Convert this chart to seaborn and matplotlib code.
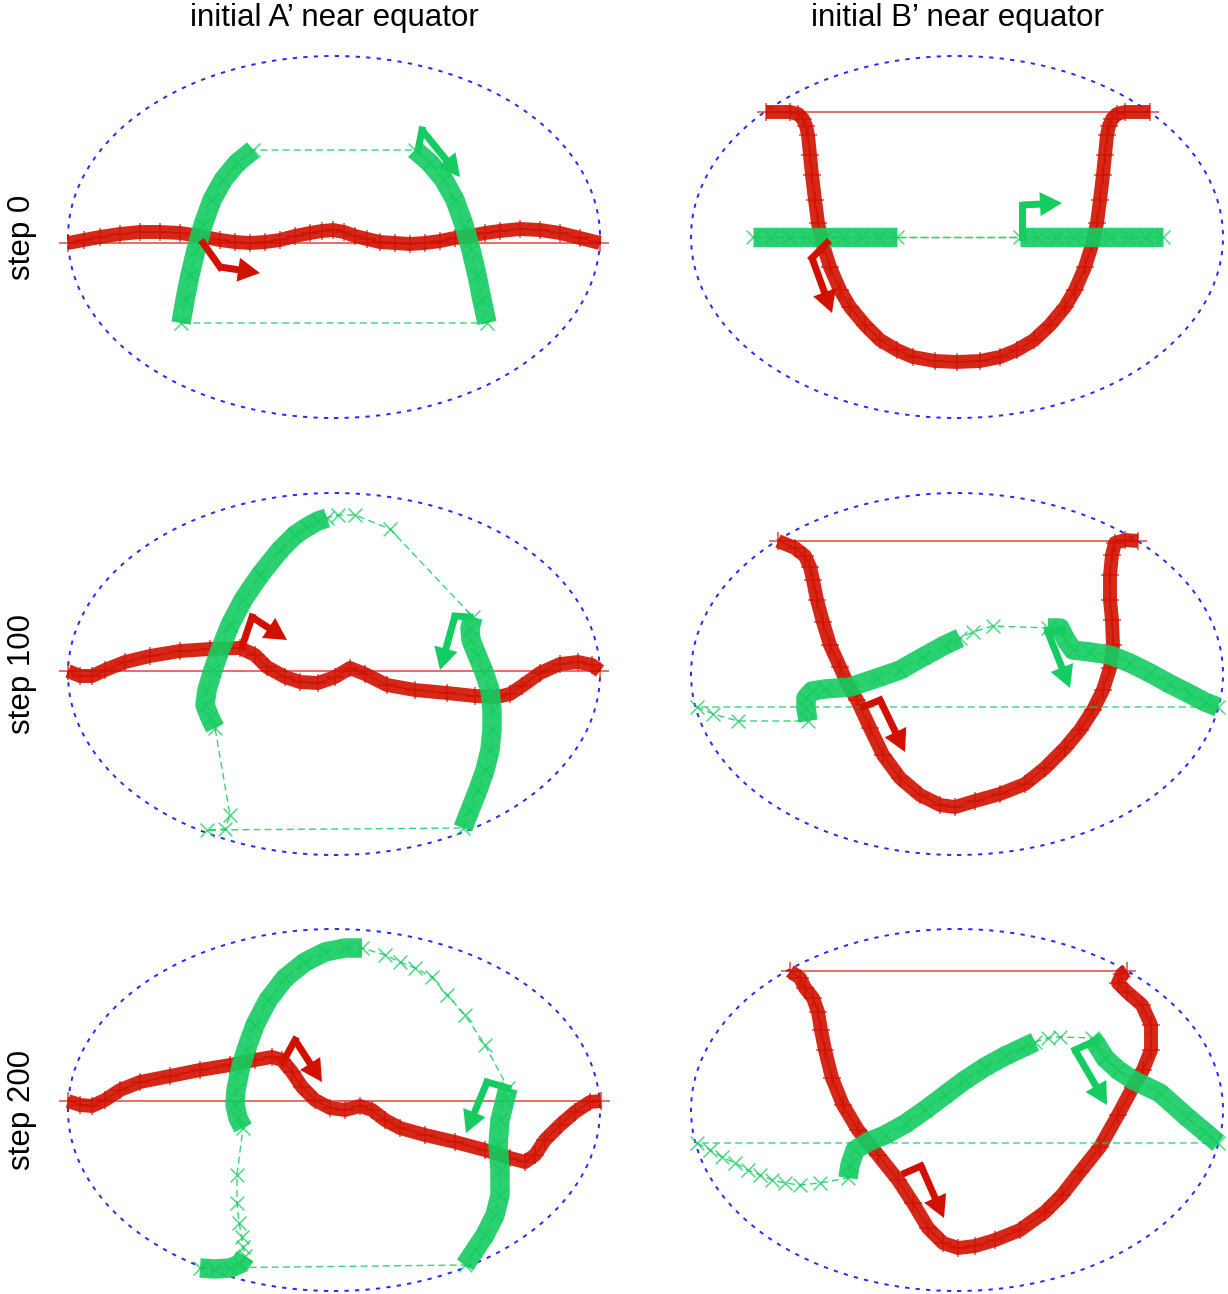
import matplotlib
matplotlib.use("Agg")
import matplotlib.pyplot as plt
import numpy as np
import pandas as pd
import seaborn as sns
from matplotlib.patches import Ellipse, FancyArrow

sns.set_theme(style="white")
plt.rcParams['font.family'] = ['Liberation Sans', 'DejaVu Sans']

# ---------------- text ----------------
col_titles = ["initial A\u2019 near equator", "initial B\u2019 near equator"]
row_titles = ["step 0", "step 100", "step 200"]

# ---------------- data (projected map coords, ellipse semi-axes 266 x 181) ----------------
# column A, step 0
a0_red_x = [-266, -250, -234, -214, -194, -174, -154, -134, -114, -99, -84, -69, -54, -39, -24, -12, -1, 10, 21,
            33, 46, 61, 76, 91, 106, 121, 136, 151, 166, 186, 206, 226, 246, 266]
a0_red_y = [-6, -3, 0, 3, 5, 5, 4, 1, -3, -5, -6, -5, -3, 1, 4, 6, 7, 5, 1,
            -2, -5, -6, -7, -6, -4, -1, 1, 4, 6, 8, 7, 4, -1, -6]
a0_g1_x = [-153, -149, -144, -138, -131, -122, -111, -97, -81]
a0_g1_y = [-86, -63, -38, -13, 12, 37, 57, 74, 87]
a0_g2_x = [81, 96, 110, 121, 130, 137, 143, 148, 153]
a0_g2_y = [87, 74, 57, 37, 12, -13, -38, -63, -86]
a0_ra_x = [-131, -114, -74]
a0_ra_y = [-6, -30, -36]
a0_ga_x = [84, 88, 126]
a0_ga_y = [87, 107, 60]

# column B, step 0
b0_red_x = [-191, -167, -159, -154, -151, -149, -147, -145, -142, -139, -134, -127, -117, -107, -92, -77, -60,
            -44, -22, 0, 23, 43, 60, 77, 93, 108, 118, 128, 135, 140, 143, 146, 148, 150, 152, 155, 160, 168, 193]
b0_red_y = [125, 125, 123, 118, 111, 102, 82, 62, 37, 14, -8, -30, -53, -70, -88, -103, -113,
            -120, -124, -125, -124, -120, -113, -103, -88, -70, -53, -30, -8, 14, 37, 62, 82, 102, 111, 118, 123, 125, 125]
b0_g1_x = [-204, -186, -168, -150, -132, -114, -96, -78, -60]
b0_g1_y = [0, 0, 0, 0, 0, 0, 0, 0, 0]
b0_g2_x = [63, 81, 99, 117, 135, 153, 171, 189, 206]
b0_g2_y = [0, 0, 0, 0, 0, 0, 0, 0, 0]
b0_ra_x = [-130, -145, -125]
b0_ra_y = [-6, -21, -76]
b0_ga_x = [65, 65, 105]
b0_ga_y = [0, 32, 34]

# column A, step 100
a1_red_x = [-266, -254, -242, -229, -209, -184, -154, -124, -94, -79, -67, -49, -34, -16, 1, 16, 31, 53, 81,
            113, 141, 163, 176, 188, 206, 226, 244, 258, 266]
a1_red_y = [3, -2, -2, 4, 12, 18, 23, 25, 26, 19, 7, -3, -8, -9, -3, 6, 0, -11, -16,
            -19, -22, -23, -20, -12, 1, 10, 12, 9, 3]
a1_g1_x = [-119, -124, -129, -127, -121, -114, -104, -91, -74, -54, -39, -27, -16, -7]
a1_g1_y = [-54, -44, -31, -16, 4, 24, 49, 74, 99, 124, 139, 147, 153, 156]
a1_s1_x = [4, 21, 56]
a1_s1_y = [159, 159, 145]
a1_g2_x = [139, 136, 137, 143, 150, 156, 158, 158, 156, 151, 144, 136, 129]
a1_g2_y = [57, 46, 34, 19, 2, -16, -36, -56, -76, -96, -116, -136, -154]
a1_s2_x = [-127, -109, -104]
a1_s2_y = [-156, -155, -141]
a1_ra_x = [-92, -82, -47]
a1_ra_y = [27, 57, 34]
a1_ga_x = [136, 121, 106]
a1_ga_y = [57, 58, 4]

# column B, step 100
b1_red_x = [-179, -162, -152, -147, -144, -140, -134, -127, -117, -109, -100, -87, -74, -57, -37, -17, -2, 18,
            43, 68, 88, 108, 123, 136, 146, 153, 156, 155, 153, 153, 155, 158, 168, 181]
b1_red_y = [133, 126, 118, 107, 94, 74, 52, 29, 7, -11, -26, -54, -81, -104, -121, -131, -133, -127,
            -120, -110, -94, -74, -56, -36, -16, 6, 29, 54, 74, 99, 119, 131, 134, 133]
b1_s1_x = [-260, -244, -219]
b1_s1_y = [-33, -40, -47]
b1_g1_x = [-149, -151, -151, -145, -132, -107, -80, -57, -34, -12, 3]
b1_g1_y = [-47, -34, -24, -17, -15, -13, -4, 4, 17, 29, 36]
b1_s2_x = [16, 36]
b1_s2_y = [42, 48]
b1_g2_x = [91, 103, 109, 116, 133, 153, 173, 193, 213, 233, 248, 261]
b1_g2_y = [46, 46, 34, 24, 22, 19, 11, 1, -10, -20, -28, -33]
b1_ra_x = [-94, -77, -52]
b1_ra_y = [-33, -26, -78]
b1_ga_x = [105, 90, 113]
b1_ga_y = [44, 44, -14]

# column A, step 200
a2_red_x = [-266, -254, -242, -229, -214, -194, -164, -134, -104, -79, -62, -52, -42, -32, -19, -4, 11, 26, 38,
            51, 66, 91, 121, 151, 176, 191, 201, 211, 226, 241, 256, 267]
a2_red_y = [9, 5, 4, 10, 20, 28, 34, 40, 45, 50, 53, 50, 38, 23, 10, 2, 0, 4, 0,
            -10, -18, -25, -32, -40, -48, -52, -45, -30, -15, -2, 8, 9]
a2_g1_x = [-91, -96, -99, -98, -94, -88, -79, -66, -49, -29, -9, 11, 28]
a2_g1_y = [-18, -8, 5, 20, 40, 60, 85, 110, 132, 148, 158, 162, 162]
a2_s1_x = [51, 66, 81, 98, 113, 131, 151]
a2_s1_y = [155, 148, 142, 133, 115, 95, 65]
a2_g2_x = [174, 171, 166, 164, 166, 166, 161, 151, 141, 131]
a2_g2_y = [22, 10, -10, -35, -60, -85, -105, -125, -140, -155]
a2_g3_x = [-134, -119, -104, -94, -89]
a2_g3_y = [-158, -159, -158, -154, -146]
a2_s2_x = [-91, -92, -95, -97, -97]
a2_s2_y = [-137, -127, -113, -93, -65]
a2_ra_x = [-51, -39, -12]
a2_ra_y = [48, 70, 28]
a2_ga_x = [174, 153, 132]
a2_ga_y = [22, 28, -23]

# column B, step 200
b2_red_x = [-167, -157, -152, -144, -139, -136, -132, -125, -114, -99, -79, -59, -44, -29, -14, 1, 18, 38,
            63, 88, 105, 123, 143, 161, 176, 186, 194, 194, 185, 170, 161, 165, 170]
b2_red_y = [139, 132, 122, 112, 98, 80, 60, 32, 5, -20, -45, -70, -93, -118, -133, -138, -136, -130,
            -120, -102, -85, -62, -37, -5, 23, 40, 60, 85, 105, 118, 127, 136, 139]
b2_s1_x = [-260, -247, -235, -222, -209, -197, -185, -172, -157, -137]
b2_s1_y = [-33, -40, -47, -53, -60, -65, -70, -73, -75, -73]
b2_g1_x = [-109, -107, -102, -89, -72, -52, -32, -12, 8, 28, 48, 65, 78]
b2_g1_y = [-68, -55, -40, -32, -25, -14, 0, 15, 30, 43, 54, 62, 68]
b2_s2_x = [91, 103]
b2_s2_y = [72, 73]
b2_g2_x = [135, 140, 148, 161, 176, 203, 230, 248, 261]
b2_g2_y = [72, 65, 52, 40, 30, 17, -7, -22, -33]
b2_ra_x = [-52, -36, -13]
b2_ra_y = [-63, -56, -108]
b2_ga_x = [140, 118, 150]
b2_ga_y = [70, 60, 5]

PANELS = {
    (0, 0): dict(red=[("d", a0_red_x, a0_red_y)],
                 green=[("d", a0_g1_x, a0_g1_y), ("d", a0_g2_x, a0_g2_y)],
                 ra=(a0_ra_x, a0_ra_y), ga=(a0_ga_x, a0_ga_y)),
    (0, 1): dict(red=[("d", b0_red_x, b0_red_y)],
                 green=[("d", b0_g1_x, b0_g1_y), ("d", b0_g2_x, b0_g2_y)],
                 ra=(b0_ra_x, b0_ra_y), ga=(b0_ga_x, b0_ga_y)),
    (1, 0): dict(red=[("d", a1_red_x, a1_red_y)],
                 green=[("d", a1_g1_x, a1_g1_y), ("s", a1_s1_x, a1_s1_y),
                        ("d", a1_g2_x, a1_g2_y), ("s", a1_s2_x, a1_s2_y)],
                 ra=(a1_ra_x, a1_ra_y), ga=(a1_ga_x, a1_ga_y)),
    (1, 1): dict(red=[("d", b1_red_x, b1_red_y)],
                 green=[("s", b1_s1_x, b1_s1_y), ("d", b1_g1_x, b1_g1_y),
                        ("s", b1_s2_x, b1_s2_y), ("d", b1_g2_x, b1_g2_y)],
                 ra=(b1_ra_x, b1_ra_y), ga=(b1_ga_x, b1_ga_y)),
    (2, 0): dict(red=[("d", a2_red_x, a2_red_y)],
                 green=[("d", a2_g1_x, a2_g1_y), ("s", a2_s1_x, a2_s1_y),
                        ("d", a2_g2_x, a2_g2_y), ("d", a2_g3_x, a2_g3_y),
                        ("s", a2_s2_x, a2_s2_y)],
                 ra=(a2_ra_x, a2_ra_y), ga=(a2_ga_x, a2_ga_y)),
    (2, 1): dict(red=[("d", b2_red_x, b2_red_y)],
                 green=[("s", b2_s1_x, b2_s1_y), ("d", b2_g1_x, b2_g1_y),
                        ("s", b2_s2_x, b2_s2_y), ("d", b2_g2_x, b2_g2_y)],
                 ra=(b2_ra_x, b2_ra_y), ga=(b2_ga_x, b2_ga_y)),
}

# ---------------- style / layout ----------------
RED = "#d11000"
GREEN = "#14cc60"
BLUE = "#2626ff"
SEMI_A, SEMI_B = 266, 181
M = 40
W, H = 1228, 1294
col_cx = [334, 957]
row_cy = [237, 674, 1110]

fig = plt.figure(figsize=(W / 100, H / 100), dpi=100)


def loop_xy(pieces):
    xs = [v for _, x, _ in pieces for v in x]
    ys = [v for _, _, y in pieces for v in y]
    return xs + [xs[0]], ys + [ys[0]]


def draw_curve(ax, pieces, color, marker, msize, band, thin_ls, z):
    for kind, x, y in pieces:
        if kind == "d":
            sns.lineplot(x=x, y=y, sort=False, estimator=None, color=color, lw=band,
                         alpha=0.9, solid_capstyle="butt", solid_joinstyle="round",
                         ax=ax, zorder=z)
    lx, ly = loop_xy(pieces)
    sns.lineplot(x=lx, y=ly, sort=False, estimator=None, color=color, lw=1.0,
                 linestyle=thin_ls, alpha=0.85, ax=ax, zorder=z + 1)
    sns.scatterplot(x=lx[:-1], y=ly[:-1], marker=marker, s=msize ** 2, color=color,
                    linewidth=1.1, alpha=0.75, ax=ax, zorder=z + 2, legend=False)


def draw_arrow(ax, xs, ys, color):
    ax.plot(xs[:2], ys[:2], color=color, lw=5, solid_capstyle="projecting", zorder=20)
    ax.add_patch(FancyArrow(xs[1], ys[1], xs[2] - xs[1], ys[2] - ys[1], width=7,
                            head_width=24, head_length=22, length_includes_head=True,
                            color=color, lw=0, zorder=20))


for (r, c), p in PANELS.items():
    cx, cy = col_cx[c], row_cy[r]
    rect = [(cx - SEMI_A - M) / W, 1 - (cy + SEMI_B + M) / H,
            2 * (SEMI_A + M) / W, 2 * (SEMI_B + M) / H]
    ax = fig.add_axes(rect)
    ax.set_xlim(-SEMI_A - M, SEMI_A + M)
    ax.set_ylim(-SEMI_B - M, SEMI_B + M)
    ax.set_axis_off()
    ax.add_patch(Ellipse((0, 0), 2 * SEMI_A, 2 * SEMI_B, fill=False, edgecolor=BLUE,
                         lw=1.4, linestyle=(0, (2.2, 3.2)), zorder=1))
    draw_curve(ax, p["red"], RED, "+", 13, 10, "-", 3)
    draw_curve(ax, p["green"], GREEN, "x", 10, 14, (0, (5, 3)), 6)
    draw_arrow(ax, *p["ra"], RED)
    draw_arrow(ax, *p["ga"], GREEN)

for c, t in enumerate(col_titles):
    fig.text(col_cx[c] / W, 1 - 18 / H, t, ha="center", va="center", fontsize=22.5,
             color="black")
for r, t in enumerate(row_titles):
    fig.text(22 / W, 1 - row_cy[r] / H, t, ha="center", va="center", rotation=90,
             fontsize=22.5, color="black")

fig.savefig("out.png", dpi=100)
